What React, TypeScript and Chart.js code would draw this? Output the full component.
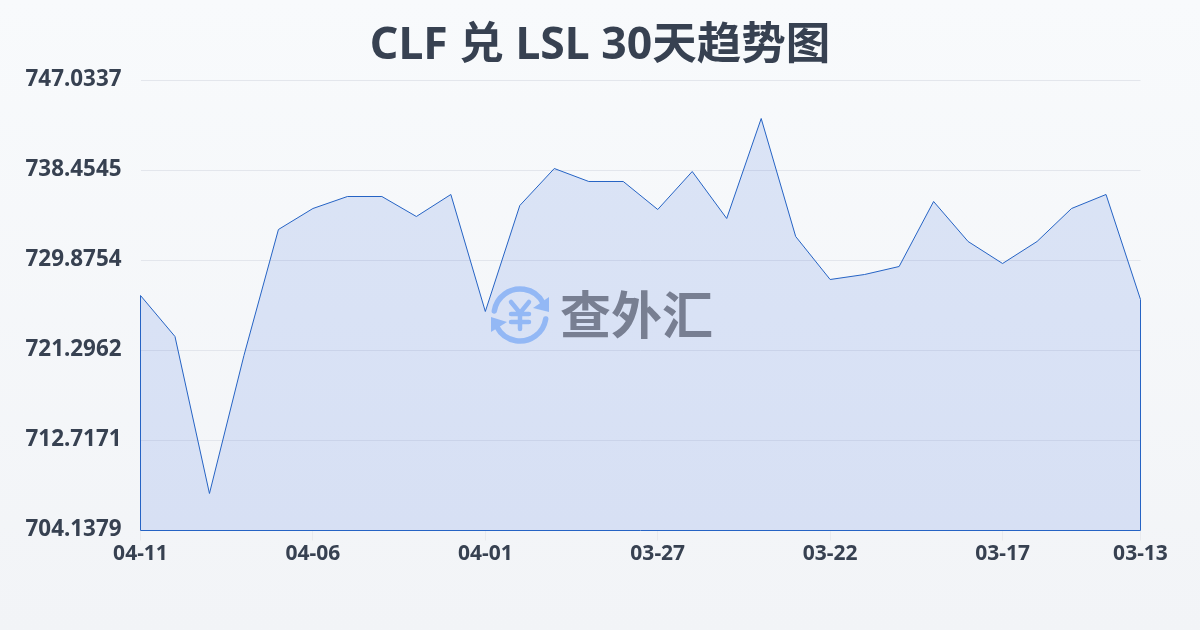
import React, { useEffect, useRef } from "react";
import { Chart, registerables } from "chart.js";

Chart.register(...registerables);

const chartTitle = "CLF 兑 LSL 30天趋势图";
const watermark = "查外汇";
const dates = [
  "04-11","04-10","04-09","04-08","04-07","04-06","04-05","04-04","04-03","04-02",
  "04-01","03-31","03-30","03-29","03-28","03-27","03-26","03-25","03-24","03-23",
  "03-22","03-21","03-20","03-19","03-18","03-17","03-16","03-15","03-14","03-13",
];
const rates = [
  726.539,722.631,707.665,720.82,732.83,734.832,735.976,735.976,734.069,736.167,
  725.014,735.118,738.645,737.406,737.406,734.737,738.359,733.879,743.411,732.163,
  728.064,728.541,729.303,735.499,731.687,729.589,731.687,734.832,736.167,726.158,
];
const yTicks = [747.0337,738.4545,729.8754,721.2962,712.7171,704.1379];
const xTickIndexes = [0,5,10,15,20,25,29];

const FONT = '"Noto Sans", "Noto Sans CJK SC", sans-serif';
const CJK = '"Noto Sans CJK SC", sans-serif';
const INK = "#374151";
const LINE = "#2563c4";

const outline = {
  id: "outline",
  afterDatasetsDraw(chart: any) {
    const { ctx, scales } = chart;
    const x = scales.x, y = scales.y;
    const bottom = y.getPixelForValue(yTicks[yTicks.length - 1]);
    const last = rates.length - 1;
    ctx.save();
    ctx.strokeStyle = LINE;
    ctx.lineWidth = 1;
    ctx.beginPath();
    ctx.moveTo(x.getPixelForValue(0), y.getPixelForValue(rates[0]));
    ctx.lineTo(x.getPixelForValue(0), bottom);
    ctx.lineTo(x.getPixelForValue(last), bottom);
    ctx.lineTo(x.getPixelForValue(last), y.getPixelForValue(rates[last]));
    ctx.stroke();
    ctx.restore();
  },
};

const mark = {
  id: "mark",
  afterDraw(chart: any) {
    const { ctx } = chart;
    const cx = 520, cy = 315, r = 26;
    ctx.save();
    ctx.strokeStyle = "#93b8f5";
    ctx.fillStyle = "#93b8f5";
    ctx.lineWidth = 5.5;
    ctx.lineCap = "round";
    const arc = (a: number, b: number) => {
      ctx.beginPath();
      ctx.arc(cx, cy, r, a, b);
      ctx.stroke();
    };
    arc(Math.PI * 1.05, Math.PI * 1.85);
    arc(Math.PI * 0.05, Math.PI * 0.85);
    const tri = (p: number[]) => {
      ctx.beginPath();
      ctx.moveTo(p[0], p[1]);
      ctx.lineTo(p[2], p[3]);
      ctx.lineTo(p[4], p[5]);
      ctx.closePath();
      ctx.fill();
    };
    tri([549, 297, 549, 312, 533, 308]);
    tri([491, 317, 507, 322, 491, 332]);
    ctx.lineWidth = 4.5;
    ctx.beginPath();
    ctx.moveTo(511, 302); ctx.lineTo(520, 313); ctx.lineTo(529, 302);
    ctx.moveTo(520, 313); ctx.lineTo(520, 329);
    ctx.moveTo(511, 314); ctx.lineTo(529, 314);
    ctx.moveTo(511, 322); ctx.lineTo(529, 322);
    ctx.stroke();
    ctx.fillStyle = "#787f92";
    ctx.font = `700 51px ${CJK}`;
    ctx.textAlign = "left";
    ctx.textBaseline = "middle";
    ctx.fillText(watermark, 560, 315);
    ctx.restore();
  },
};

export default function App() {
  const ref = useRef<HTMLCanvasElement | null>(null);
  useEffect(() => {
    document.body.style.margin = "0";
    const chart = new Chart(ref.current!, {
      type: "line",
      data: {
        labels: dates,
        datasets: [{
          data: rates,
          borderColor: LINE,
          borderWidth: 1,
          backgroundColor: "rgba(59,110,220,0.15)",
          fill: "start",
          pointRadius: 0,
          tension: 0,
        }],
      },
      options: {
        animation: false,
        responsive: false,
        layout: { padding: 0 },
        plugins: {
          legend: { display: false },
          tooltip: { enabled: false },
          title: {
            display: true,
            text: chartTitle,
            color: INK,
            font: { family: FONT, size: 44.5, weight: "bold" },
            padding: { top: 20.1, bottom: 7 },
          },
        },
        scales: {
          x: {
            grid: { display: true, drawOnChartArea: false, drawTicks: true, tickLength: 10, tickColor: "#e8eaee", color: "#e8eaee" },
            border: { display: false },
            afterBuildTicks(axis: any) {
              axis.ticks = xTickIndexes.map((v) => ({ value: v }));
            },
            afterFit(axis: any) { axis.height = 99.5; axis.paddingRight = 59.5; },
            ticks: {
              autoSkip: false,
              maxRotation: 0,
              color: INK,
              padding: 1,
              font: { family: FONT, size: 21, weight: "bold" },
              callback(v: any) { return dates[v as number]; },
            },
          },
          y: {
            min: yTicks[yTicks.length - 1],
            max: yTicks[0],
            afterBuildTicks(axis: any) {
              axis.ticks = yTicks.map((v) => ({ value: v }));
            },
            afterFit(axis: any) { axis.width = 140.5; },
            border: { display: false },
            grid: { color: "#e3e6ec", lineWidth: 1, drawTicks: false },
            ticks: {
              color: INK,
              padding: 19,
              labelOffset: -1,
              font: { family: FONT, size: 22.4, weight: "bold" },
              callback(v: any) { return Number(v).toFixed(4); },
            },
          },
        },
      },
      plugins: [outline, mark],
    } as any);
    return () => chart.destroy();
  }, []);
  return (
    <div style={{ width: 1200, height: 630, background: "linear-gradient(180deg,#f8fafc 0%,#f2f4f7 100%)" }}>
      <canvas ref={ref} width={1200} height={630} style={{ display: "block" }} />
    </div>
  );
}
